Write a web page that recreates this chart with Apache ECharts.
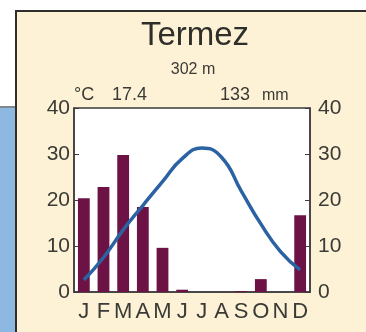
<!DOCTYPE html>
<html><head><meta charset="utf-8">
<style>html,body{margin:0;padding:0;background:#fff}#c{width:366px;height:332px}</style>
<script src="https://cdn.jsdelivr.net/npm/echarts@6/dist/echarts.min.js"></script>
</head><body><div id="c"></div>
<script>
const months = ['J','F','M','A','M','J','J','A','S','O','N','D'];
const precipitation = [20.4, 22.8, 29.8, 18.5, 9.6, 0.5, 0, 0, 0.2, 2.8, 0, 16.7];
const temperature = [2.6, 7.5, 13.5, 18.8, 24, 29, 31.3, 29.3, 22, 14.8, 8.8, 4.8];
const yTicks = [0, 10, 20, 30, 40];
const stationName = 'Termez';
const elevation = '302 m';
const meanTemp = '17.4';
const annualPrecip = '133';

const chart = echarts.init(document.getElementById('c'), null, {renderer:'canvas'});
const labelFont = {fontFamily:'"Liberation Sans", Arial, sans-serif', fontSize:21, color:'#3a3a36'};
const hdr = '18px "Liberation Sans", Arial, sans-serif';
chart.setOption({
  animation:false,
  backgroundColor:'#ffffff',
  graphic:[
    {type:'rect', z:-10, shape:{x:0,y:108,width:15,height:224}, style:{fill:'#8cb8e2'}},
    {type:'line', z:-9, shape:{x1:0,y1:107,x2:15,y2:107}, style:{stroke:'#55606a',lineWidth:1.5}},
    {type:'rect', z:-8, shape:{x:16,y:11,width:360,height:330}, style:{fill:'#fdf2d5', stroke:'#2e2e2a', lineWidth:2}},
    {type:'text', z:10, style:{text:stationName, x:195, y:36, align:'center', verticalAlign:'middle', font:'33px "Liberation Sans", Arial, sans-serif', fill:'#2e2e2a'}},
    {type:'text', z:10, style:{text:elevation, x:193, y:70, align:'center', verticalAlign:'middle', font:'16px "Liberation Sans", Arial, sans-serif', fill:'#3a3a36'}},
    {type:'text', z:10, style:{text:'°C', x:74, y:95, verticalAlign:'middle', font:hdr, fill:'#3a3a36'}},
    {type:'text', z:10, style:{text:meanTemp, x:112, y:95, verticalAlign:'middle', font:hdr, fill:'#3a3a36'}},
    {type:'text', z:10, style:{text:annualPrecip, x:220, y:95, verticalAlign:'middle', font:hdr, fill:'#3a3a36'}},
    {type:'text', z:10, style:{text:'mm', x:262, y:96, verticalAlign:'middle', font:'16px "Liberation Sans", Arial, sans-serif', fill:'#3a3a36'}}
  ],
  grid:{left:74, right:56, top:108, bottom:40, show:true, backgroundColor:'#ffffff', borderColor:'#3c3c3c', borderWidth:1.5},
  xAxis:{type:'category', data:months, axisLine:{show:true,lineStyle:{color:'#3c3c3c',width:1.5}}, axisTick:{show:false},
    axisLabel:Object.assign({margin:9, interval:0}, labelFont, {fontSize:22})},
  yAxis:[
    {type:'value', min:0, max:40, interval:10, position:'left', splitLine:{show:false},
      axisLine:{show:true,lineStyle:{color:'#3c3c3c',width:1.5}}, axisTick:{show:true,inside:true,length:5,lineStyle:{color:'#3c3c3c'}},
      axisLabel:Object.assign({margin:4, formatter:v=>yTicks.includes(v)?String(v):''}, labelFont)},
    {type:'value', min:0, max:40, interval:10, position:'right', splitLine:{show:false},
      axisLine:{show:true,lineStyle:{color:'#3c3c3c',width:1.5}}, axisTick:{show:true,inside:true,length:5,lineStyle:{color:'#3c3c3c'}},
      axisLabel:Object.assign({margin:8, formatter:v=>yTicks.includes(v)?String(v):''}, labelFont)}
  ],
  series:[
    {type:'bar', data:precipitation, barWidth:'60%', itemStyle:{color:'#6c1244'}, yAxisIndex:0},
    {type:'line', data:temperature, smooth:0.5, symbol:'none', lineStyle:{color:'#2a62a2', width:3.5}, yAxisIndex:0, z:5}
  ]
});
</script></body></html>
